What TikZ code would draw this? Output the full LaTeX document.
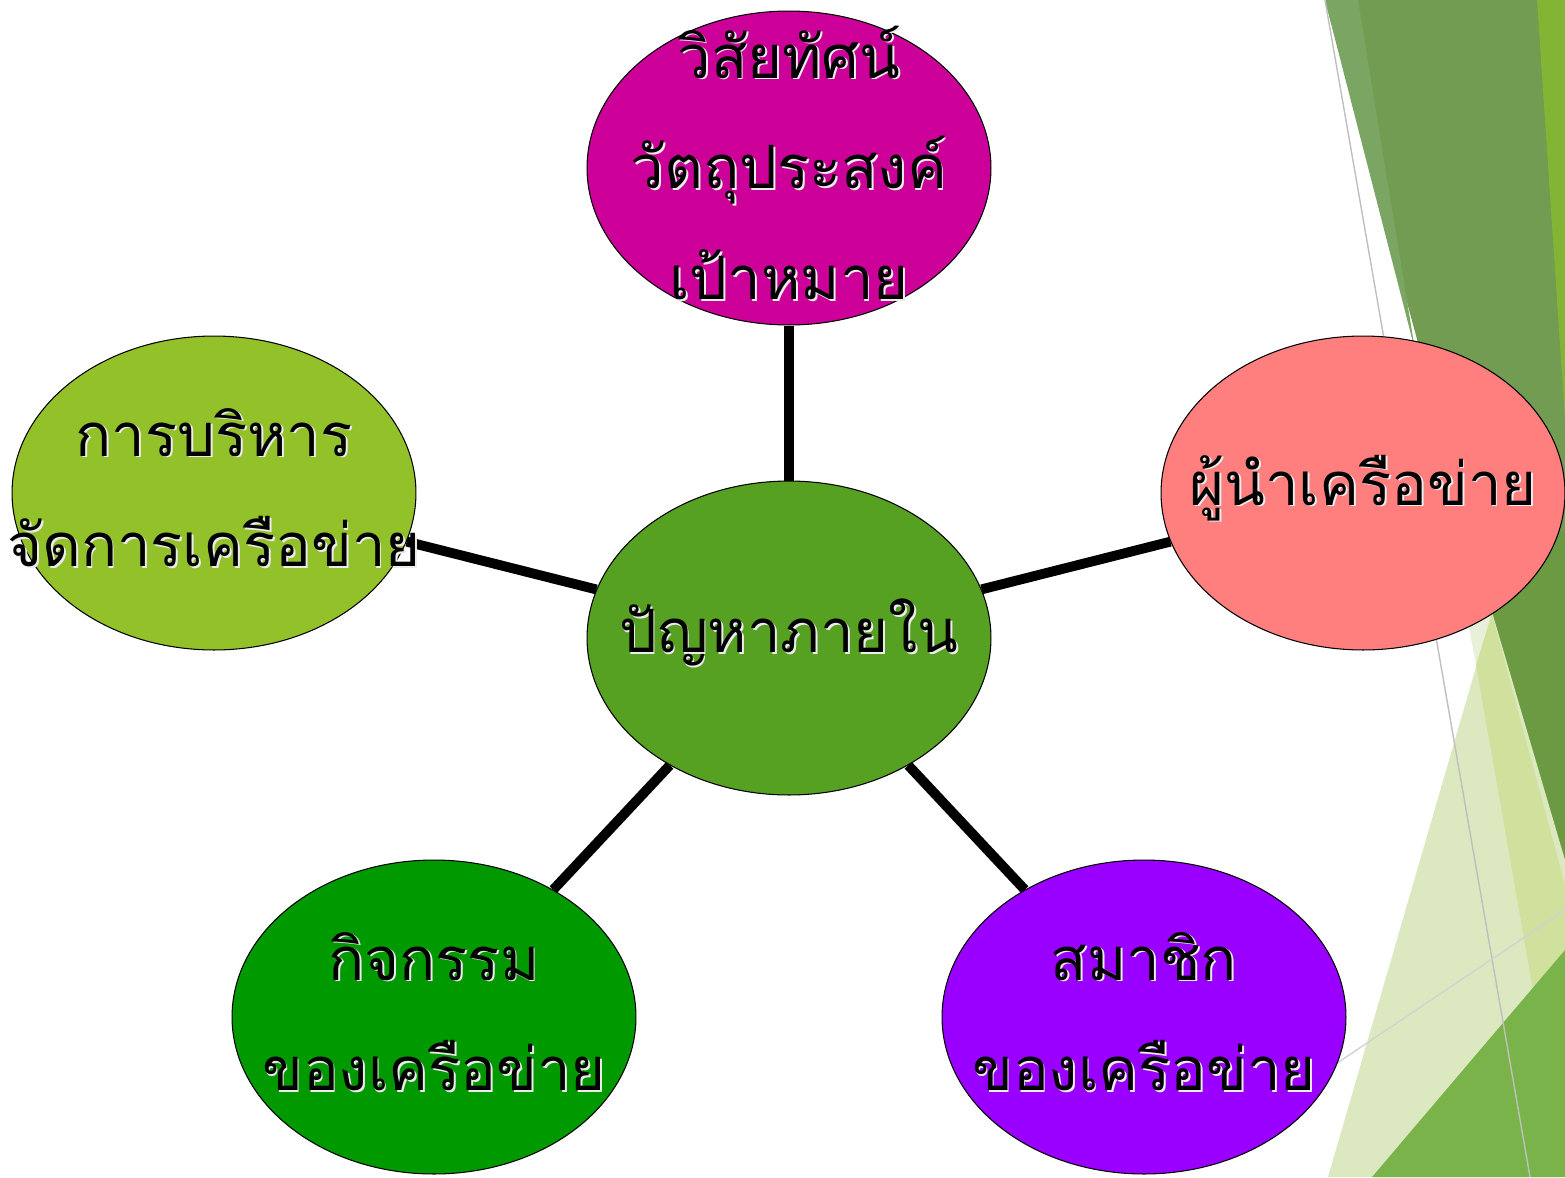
\documentclass[tikz,border=0pt]{standalone}
\usepackage{fontspec}
\newfontfamily\thaifont[Script=Thai]{Loma}
\usetikzlibrary{shapes.geometric}

\definecolor{vision}{HTML}{CC0099}
\definecolor{inner}{HTML}{56A022}
\definecolor{admin}{HTML}{93C12A}
\definecolor{leader}{HTML}{FF7F7F}
\definecolor{activity}{HTML}{009900}
\definecolor{member}{HTML}{9900FF}
\definecolor{facetdark}{HTML}{719C51}
\definecolor{facetdeep}{HTML}{6B9A42}
\definecolor{facetsoft}{HTML}{7AA562}
\definecolor{facetlime}{HTML}{84B433}
\definecolor{facetwhite}{HTML}{E8F0DA}
\definecolor{facetpale}{HTML}{DCE9C0}
\definecolor{facetmid}{HTML}{CFE19C}
\definecolor{facetgrass}{HTML}{7AB34A}
\definecolor{facetline}{HTML}{BFBFBF}

\newcommand{\glow}[1]{\leavevmode\rlap{\kern1pt\raisebox{-1pt}{\color{white!85!gray}#1}}#1}

\begin{document}
\begin{tikzpicture}[x=0.02cm,y=-0.02cm]
			\tikzset{blob/.style={shape = ellipse, draw, line width = 0.6pt, minimum width = 8.08cm, minimum height = 6.28cm, inner sep = 0pt}}
			\tikzset{thtext/.style={align = center, text = black, yshift = 2.5pt, font = {\thaifont\fontsize{34}{63}\selectfont}}}
			\tikzset{spoke/.style={line width = 5.6pt}}
			\useasboundingbox (0,0) rectangle (1565,1177);
			%background facets
			\fill[facetdark] (1325,0) -- (1565,0) -- (1565,885) -- cycle;
			\fill[facetdeep] (1470,530) -- (1565,530) -- (1565,885) -- cycle;
			\fill[facetsoft] (1325,0) -- (1358,0) -- (1415,350) -- cycle;
			\fill[facetlime] (1537,0) -- (1565,0) -- (1565,420) -- cycle;
			\fill[facetwhite] (1460,580) -- (1482,580) -- (1492,614) -- (1476,665) -- cycle;
			\fill[facetpale] (1328,1177) -- (1492,612) -- (1565,860) -- (1565,1177) -- cycle;
			\fill[facetmid] (1476,665) -- (1492,614) -- (1565,885) -- (1565,1172) -- cycle;
			\fill[facetgrass] (1372,1177) -- (1565,950) -- (1565,1177) -- cycle;
			\draw[facetline, line width = 0.8pt] (1325,0) -- (1530,1177);
			\draw[facetline!70, line width = 0.8pt] (1300,1088) -- (1565,910);
			%vertices
			\node[blob, fill = inner] (in) at (789, 638) {};
			\node[blob, fill = vision] (vis) at (789, 168) {};
			\node[blob, fill = admin] (adm) at (214, 493) {};
			\node[blob, fill = leader] (lead) at (1363, 493) {};
			\node[blob, fill = activity] (act) at (434, 1017) {};
			\node[blob, fill = member] (mem) at (1144, 1017) {};
			%edges
			\path (in) edge[spoke] (vis);
			\path (in) edge[spoke] (adm);
			\path (in) edge[spoke] (lead);
			\path (in) edge[spoke] (act);
			\path (in) edge[spoke] (mem);
			%texts
			\node[thtext] (inT) at (in) {\glow{ปัญหาภายใน}};
			\node[thtext] (visT) at (vis) {\glow{วิสัยทัศน์}\\\glow{วัตถุประสงค์}\\\glow{เป้าหมาย}};
			\node[thtext] (admT) at (adm) {\glow{การบริหาร}\\\glow{จัดการเครือข่าย}};
			\node[thtext] (leadT) at (lead) {\glow{ผู้นำเครือข่าย}};
			\node[thtext] (actT) at (act) {\glow{กิจกรรม}\\\glow{ของเครือข่าย}};
			\node[thtext] (memT) at (mem) {\glow{สมาชิก}\\\glow{ของเครือข่าย}};
\end{tikzpicture}
\end{document}
